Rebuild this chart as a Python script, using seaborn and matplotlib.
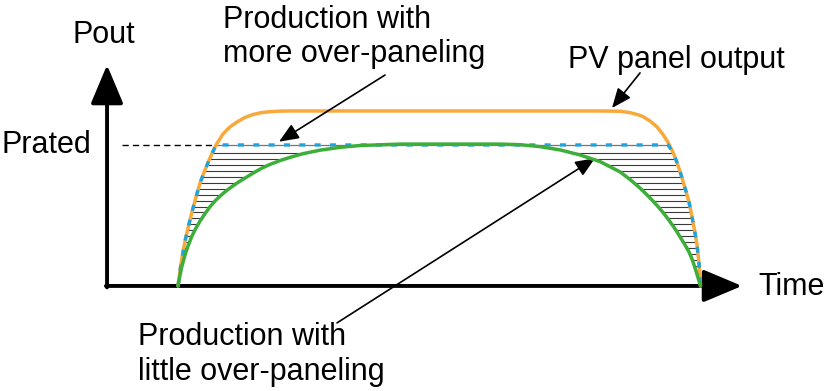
import numpy as np
import matplotlib
matplotlib.use("Agg")
import matplotlib.pyplot as plt
import seaborn as sns

# time of day (h) and power (per unit of Prated)
time_h = np.array([6.000, 6.054, 6.107, 6.188, 6.268, 6.375, 6.482, 6.590, 6.723, 6.857,
                   7.018, 7.206, 7.393, 7.581, 7.795, 8.010, 8.251, 8.465, 8.733, 9.001,
                   9.349, 9.805, 10.341, 10.877, 11.949, 13.288, 14.628,
                   15.164, 15.700, 16.236, 16.772, 17.308, 17.844,
                   18.112, 18.299, 18.460, 18.647, 18.835, 18.996, 19.130,
                   19.264, 19.371, 19.478, 19.585, 19.692, 19.773, 19.853, 19.907, 19.960, 20.000])
pv_output = np.array([0, 0.110, 0.200, 0.319, 0.411, 0.525, 0.631, 0.730, 0.823, 0.908,
                      1.000, 1.078, 1.128, 1.163, 1.195, 1.216, 1.230, 1.236, 1.240, 1.241,
                      1.241, 1.241, 1.241, 1.241, 1.241, 1.241, 1.241,
                      1.241, 1.241, 1.241, 1.241, 1.241, 1.239,
                      1.229, 1.216, 1.201, 1.170, 1.128, 1.074, 1.018,
                      0.948, 0.875, 0.790, 0.695, 0.595, 0.490, 0.375, 0.290, 0.160, 0])
little_over = np.array([0, 0.078, 0.142, 0.220, 0.284, 0.355, 0.411, 0.460, 0.513, 0.562,
                        0.610, 0.656, 0.695, 0.730, 0.765, 0.800, 0.836, 0.862, 0.889, 0.912,
                        0.938, 0.963, 0.983, 0.996, 1.006, 1.006, 1.006,
                        1.002, 0.988, 0.965, 0.929, 0.882, 0.809,
                        0.755, 0.713, 0.674, 0.624, 0.571, 0.521, 0.475,
                        0.426, 0.383, 0.337, 0.291, 0.241, 0.191, 0.128, 0.082, 0.035, 0])
p_rated = 1.0
# more over-paneling: PV output clipped at the inverter rating
more_over = np.minimum(pv_output, p_rated)

orange = "#F7A93B"
green = "#3DAE3A"
blue = "#1FA3DF"

sns.set_theme(style="white")
plt.rcParams["font.family"] = ["Liberation Sans", "DejaVu Sans"]
plt.rcParams["text.color"] = "black"

fig = plt.figure(figsize=(8.25, 3.91), dpi=100)
ax = fig.add_axes([0, 0, 1, 1])
ax.set_xlim(1.230, 23.336)
ax.set_ylim(-0.745, 2.028)
ax.axis("off")

# axes with arrow heads
t0, p0 = 4.098, 0.0
head = dict(arrowstyle="-|>,head_length=1.0,head_width=0.42", lw=2.8, color="black",
            shrinkA=0, shrinkB=0, mutation_scale=24)
ax.annotate("", xy=(t0, 1.567), xytext=(t0, p0 - 0.01), arrowprops=head)
ax.annotate("", xy=(21.113, p0), xytext=(t0 - 0.03, p0), arrowprops=head)

# hatched area between the two production curves
fill = ax.fill_between(time_h, little_over, more_over, facecolor="none", edgecolor="none")
levels = np.arange(0.941, 0.0, -0.042)
hatch = ax.hlines(levels, time_h.min(), time_h.max(), colors="#3a3a3a", lw=0.8, zorder=1)
hatch.set_clip_path(fill.get_paths()[0], ax.transData)

# Prated reference
t_cross = np.interp(p_rated, pv_output[:15], time_h[:15])
t_fall = np.interp(p_rated, pv_output[33:][::-1], time_h[33:][::-1])
ax.hlines(p_rated, 4.499, t_cross, colors="black", lw=1.0, linestyles=(0, (4.5, 3)))
ax.hlines(p_rated, t_cross, t_fall, colors="#777777", lw=0.9, zorder=2)

sns.lineplot(x=time_h, y=pv_output, color=orange, lw=2.5, ax=ax, sort=False, zorder=3)
sns.lineplot(x=time_h, y=more_over, color=blue, lw=2.4, ax=ax, sort=False, zorder=4,
             linestyle=(0, (1.8, 2.8)))
sns.lineplot(x=time_h, y=little_over, color=green, lw=2.5, ax=ax, sort=False, zorder=5)

fs = 22
ax.text(3.160, 1.723, "Pout", fontsize=fs, va="baseline", ha="left")
ax.text(3.669, 0.943, "Prated", fontsize=fs, va="baseline", ha="right")
ax.text(21.541, -0.064, "Time", fontsize=fs, va="baseline", ha="left")
ax.text(7.206, 1.585, "Production with\nmore over-paneling", fontsize=fs, va="baseline", ha="left")
ax.text(16.450, 1.546, "PV panel output", fontsize=fs, va="baseline", ha="left")
ax.text(4.928, -0.667, "Production with\nlittle over-paneling", fontsize=fs, va="baseline", ha="left")

arrow = dict(arrowstyle="-|>,head_length=0.6,head_width=0.25", lw=1.2, color="black",
             shrinkA=0, shrinkB=0, mutation_scale=20)
ax.annotate("", xy=(8.706, 1.023), xytext=(11.547, 1.496), arrowprops=arrow)
ax.annotate("", xy=(17.629, 1.262), xytext=(18.380, 1.511), arrowprops=arrow)
ax.annotate("", xy=(17.174, 0.906), xytext=(10.260, -0.262), arrowprops=arrow)

fig.savefig("out.png", dpi=100)
